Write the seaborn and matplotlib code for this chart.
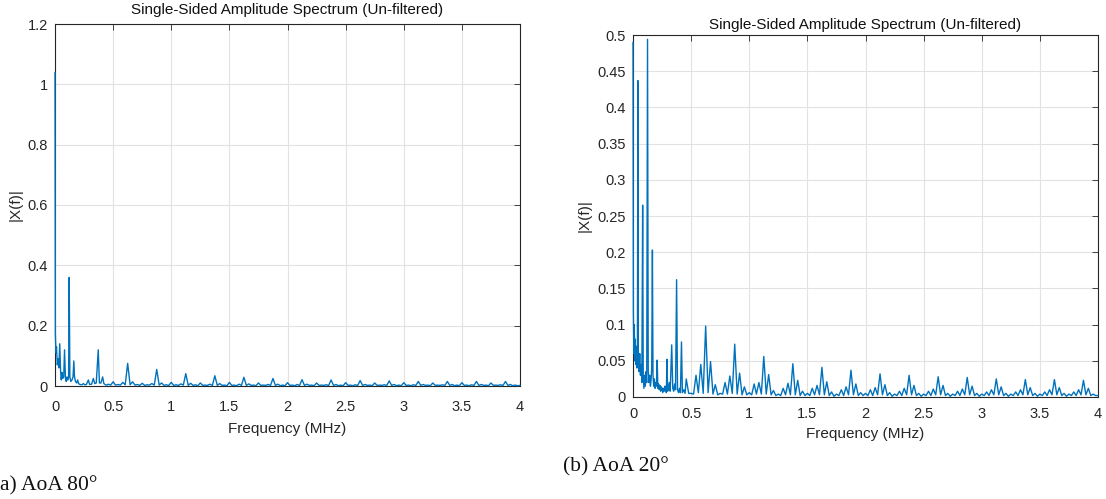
import matplotlib
matplotlib.use("Agg")
import matplotlib.pyplot as plt
import pandas as pd
import seaborn as sns

# ---------------- data (MHz, |X(f)|) ----------------
# low-frequency detail, panel (a) AoA 80
low_freq_a = [0.000, 0.003, 0.008, 0.013, 0.020, 0.027, 0.033, 0.041, 0.048, 0.054,
              0.060, 0.066, 0.075, 0.082, 0.090, 0.097, 0.104, 0.111, 0.117, 0.122,
              0.128, 0.136, 0.146, 0.155, 0.162, 0.168, 0.176, 0.186, 0.195, 0.203,
              0.215, 0.230, 0.245, 0.255, 0.270, 0.287, 0.298, 0.315, 0.330, 0.342,
              0.355, 0.372, 0.382, 0.395, 0.410, 0.420, 0.435, 0.448]
low_amp_a = [1.040, 0.175, 0.110, 0.130, 0.070, 0.090, 0.060, 0.140, 0.050, 0.020,
             0.045, 0.025, 0.030, 0.120, 0.025, 0.015, 0.030, 0.020, 0.030, 0.360,
             0.030, 0.015, 0.020, 0.030, 0.083, 0.030, 0.015, 0.010, 0.020, 0.008,
             0.005, 0.004, 0.008, 0.004, 0.005, 0.020, 0.005, 0.006, 0.025, 0.008,
             0.010, 0.120, 0.010, 0.010, 0.030, 0.008, 0.004, 0.003]

# low-frequency detail, panel (b) AoA 20
low_freq_b = [0.000, 0.003, 0.007, 0.011, 0.015, 0.019, 0.024, 0.029, 0.034, 0.038,
              0.042, 0.046, 0.052, 0.058, 0.064, 0.070, 0.076, 0.083, 0.088, 0.094,
              0.100, 0.106, 0.112, 0.118, 0.125, 0.131, 0.137, 0.143, 0.150, 0.156,
              0.161, 0.167, 0.172, 0.178, 0.184, 0.190, 0.196, 0.202, 0.208, 0.214,
              0.220, 0.226, 0.232, 0.238, 0.244, 0.250, 0.256, 0.262, 0.268, 0.275,
              0.281, 0.287, 0.292, 0.298, 0.305, 0.312, 0.320, 0.333, 0.342, 0.350,
              0.358, 0.366, 0.375, 0.383, 0.392, 0.400, 0.408, 0.417, 0.425, 0.437,
              0.448]
low_amp_b = [0.490, 0.120, 0.060, 0.100, 0.050, 0.080, 0.045, 0.070, 0.040, 0.060,
             0.437, 0.050, 0.035, 0.060, 0.030, 0.045, 0.020, 0.265, 0.030, 0.012,
             0.030, 0.015, 0.035, 0.020, 0.494, 0.035, 0.020, 0.030, 0.015, 0.025,
             0.040, 0.203, 0.030, 0.015, 0.025, 0.012, 0.020, 0.015, 0.051, 0.012,
             0.018, 0.010, 0.016, 0.008, 0.014, 0.012, 0.006, 0.012, 0.008, 0.015,
             0.010, 0.006, 0.052, 0.008, 0.012, 0.020, 0.008, 0.072, 0.012, 0.008,
             0.018, 0.010, 0.162, 0.010, 0.006, 0.012, 0.006, 0.076, 0.006, 0.010,
             0.005]

# harmonic lines above 0.45 MHz (shared frequency grid)
harm_freq = [0.458,
             0.500, 0.542, 0.583, 0.625, 0.667, 0.708,
             0.750, 0.792, 0.833, 0.875, 0.917, 0.958,
             1.000, 1.042, 1.083, 1.125, 1.167, 1.208,
             1.250, 1.292, 1.333, 1.375, 1.417, 1.458,
             1.500, 1.542, 1.583, 1.625, 1.667, 1.708,
             1.750, 1.792, 1.833, 1.875, 1.917, 1.958,
             2.000, 2.042, 2.083, 2.125, 2.167, 2.208,
             2.250, 2.292, 2.333, 2.375, 2.417, 2.458,
             2.500, 2.542, 2.583, 2.625, 2.667, 2.708,
             2.750, 2.792, 2.833, 2.875, 2.917, 2.958,
             3.000, 3.042, 3.083, 3.125, 3.167, 3.208,
             3.250, 3.292, 3.333, 3.375, 3.417, 3.458,
             3.500, 3.542, 3.583, 3.625, 3.667, 3.708,
             3.750, 3.792, 3.833, 3.875, 3.917, 3.958]
harm_amp_a = [0.006,
              0.014, 0.005, 0.012, 0.075, 0.014, 0.005,
              0.009, 0.004, 0.008, 0.055, 0.010, 0.004,
              0.012, 0.004, 0.007, 0.041, 0.009, 0.004,
              0.010, 0.003, 0.006, 0.034, 0.008, 0.003,
              0.012, 0.003, 0.006, 0.029, 0.007, 0.003,
              0.010, 0.003, 0.005, 0.025, 0.006, 0.003,
              0.011, 0.003, 0.005, 0.021, 0.006, 0.003,
              0.010, 0.003, 0.004, 0.020, 0.005, 0.003,
              0.011, 0.003, 0.004, 0.018, 0.005, 0.003,
              0.010, 0.003, 0.004, 0.017, 0.005, 0.003,
              0.011, 0.003, 0.004, 0.015, 0.005, 0.003,
              0.010, 0.003, 0.004, 0.015, 0.005, 0.003,
              0.011, 0.003, 0.004, 0.015, 0.005, 0.003,
              0.010, 0.003, 0.004, 0.015, 0.005, 0.003]
harm_amp_b = [0.025,
              0.005, 0.030, 0.045, 0.098, 0.049, 0.017,
              0.005, 0.020, 0.029, 0.073, 0.033, 0.014,
              0.006, 0.018, 0.020, 0.056, 0.031, 0.009,
              0.004, 0.012, 0.019, 0.046, 0.023, 0.008,
              0.005, 0.012, 0.016, 0.041, 0.021, 0.007,
              0.004, 0.010, 0.014, 0.037, 0.018, 0.006,
              0.005, 0.010, 0.013, 0.032, 0.017, 0.006,
              0.004, 0.008, 0.012, 0.030, 0.016, 0.005,
              0.004, 0.008, 0.011, 0.028, 0.016, 0.005,
              0.004, 0.008, 0.011, 0.027, 0.015, 0.005,
              0.004, 0.007, 0.010, 0.025, 0.014, 0.005,
              0.004, 0.007, 0.010, 0.024, 0.013, 0.005,
              0.004, 0.007, 0.010, 0.024, 0.013, 0.005,
              0.004, 0.007, 0.010, 0.023, 0.012, 0.004]

# valleys between the harmonic lines
valley_freq = [0.479,
               0.521, 0.562, 0.604, 0.646, 0.688, 0.729,
               0.771, 0.812, 0.854, 0.896, 0.938, 0.979,
               1.021, 1.062, 1.104, 1.146, 1.188, 1.229,
               1.271, 1.312, 1.354, 1.396, 1.438, 1.479,
               1.521, 1.562, 1.604, 1.646, 1.688, 1.729,
               1.771, 1.812, 1.854, 1.896, 1.938, 1.979,
               2.021, 2.062, 2.104, 2.146, 2.188, 2.229,
               2.271, 2.312, 2.354, 2.396, 2.438, 2.479,
               2.521, 2.562, 2.604, 2.646, 2.688, 2.729,
               2.771, 2.812, 2.854, 2.896, 2.938, 2.979,
               3.021, 3.062, 3.104, 3.146, 3.188, 3.229,
               3.271, 3.312, 3.354, 3.396, 3.438, 3.479,
               3.521, 3.562, 3.604, 3.646, 3.688, 3.729,
               3.771, 3.812, 3.854, 3.896, 3.938, 3.979,
               4.000]
valley_amp_a = [0.003,
                0.003, 0.003, 0.004, 0.004, 0.003, 0.002,
                0.002, 0.003, 0.003, 0.003, 0.002, 0.002,
                0.002, 0.002, 0.003, 0.002, 0.002, 0.001,
                0.002, 0.002, 0.002, 0.002, 0.002, 0.001,
                0.002, 0.001, 0.002, 0.002, 0.002, 0.001,
                0.002, 0.002, 0.002, 0.002, 0.001, 0.001,
                0.002, 0.001, 0.002, 0.002, 0.002, 0.001,
                0.002, 0.002, 0.002, 0.002, 0.001, 0.001,
                0.002, 0.001, 0.002, 0.002, 0.002, 0.001,
                0.002, 0.002, 0.002, 0.002, 0.001, 0.001,
                0.002, 0.001, 0.002, 0.002, 0.002, 0.001,
                0.002, 0.002, 0.002, 0.002, 0.001, 0.001,
                0.002, 0.001, 0.002, 0.002, 0.002, 0.001,
                0.002, 0.002, 0.002, 0.002, 0.001, 0.001,
                0.002]
valley_amp_b = [0.005,
                0.004, 0.006, 0.005, 0.006, 0.004, 0.003,
                0.004, 0.004, 0.005, 0.004, 0.003, 0.003,
                0.003, 0.004, 0.004, 0.004, 0.003, 0.002,
                0.002, 0.003, 0.003, 0.003, 0.002, 0.002,
                0.002, 0.003, 0.003, 0.003, 0.002, 0.001,
                0.002, 0.002, 0.003, 0.003, 0.002, 0.002,
                0.002, 0.002, 0.003, 0.003, 0.002, 0.001,
                0.002, 0.002, 0.003, 0.003, 0.002, 0.001,
                0.002, 0.002, 0.003, 0.003, 0.002, 0.001,
                0.002, 0.002, 0.003, 0.003, 0.002, 0.001,
                0.002, 0.002, 0.003, 0.003, 0.002, 0.001,
                0.002, 0.002, 0.003, 0.003, 0.002, 0.001,
                0.002, 0.002, 0.003, 0.003, 0.002, 0.001,
                0.002, 0.002, 0.003, 0.003, 0.002, 0.002,
                0.002]

x_ticks = [0, 0.5, 1, 1.5, 2, 2.5, 3, 3.5, 4]
x_tick_labels = ["0", "0.5", "1", "1.5", "2", "2.5", "3", "3.5", "4"]
y_ticks_a = [0, 0.2, 0.4, 0.6, 0.8, 1.0, 1.2]
y_tick_labels_a = ["0", "0.2", "0.4", "0.6", "0.8", "1", "1.2"]
y_ticks_b = [0, 0.05, 0.1, 0.15, 0.2, 0.25, 0.3, 0.35, 0.4, 0.45, 0.5]
y_tick_labels_b = ["0", "0.05", "0.1", "0.15", "0.2", "0.25", "0.3", "0.35",
                   "0.4", "0.45", "0.5"]

title = "Single-Sided Amplitude Spectrum (Un-filtered)"
x_label = "Frequency (MHz)"
y_label = "|X(f)|"
caption_a = "a) AoA 80°"   # left edge of this caption is cropped in the original
caption_b = "(b) AoA 20°"


def build(low_f, low_a, harm_a, valley_a):
    df = pd.concat([
        pd.DataFrame({"f": low_f, "a": low_a}),
        pd.DataFrame({"f": harm_freq, "a": harm_a}),
        pd.DataFrame({"f": valley_freq, "a": valley_a}),
    ])
    return df.sort_values("f").reset_index(drop=True)


df_a = build(low_freq_a, low_amp_a, harm_amp_a, valley_amp_a)
df_b = build(low_freq_b, low_amp_b, harm_amp_b, valley_amp_b)

sns.set_theme(style="white")
plt.rcParams["font.family"] = ["Liberation Sans", "DejaVu Sans"]
plt.rcParams["path.simplify"] = False

W, H = 1106, 499
fig = plt.figure(figsize=(W / 100, H / 100), dpi=100)
fig.patch.set_facecolor("white")
ax_a = fig.add_axes([55 / W, 1 - 386 / H, 465 / W, 362 / H])
ax_b = fig.add_axes([633 / W, 1 - 397 / H, 465 / W, 362 / H])

line_color = "#0072BD"
dark = "#262626"

panels = [(ax_a, df_a, y_ticks_a, y_tick_labels_a, 1.2, 10.0, 6.0, 7),
          (ax_b, df_b, y_ticks_b, y_tick_labels_b, 0.5, 7.5, 4.0, 4)]
for ax, df, yt, ytl, ymax, xpad, xlpad, tpad in panels:
    sns.lineplot(data=df, x="f", y="a", ax=ax, color=line_color,
                 linewidth=1.0, estimator=None, sort=True, zorder=3,
                 clip_on=False)
    ax.set_xlim(0, 4)
    ax.set_ylim(0, ymax)
    ax.set_xticks(x_ticks)
    ax.set_xticklabels(x_tick_labels)
    ax.set_yticks(yt)
    ax.set_yticklabels(ytl)
    ax.grid(True, color="#e2e2e2", linewidth=0.8)
    ax.set_axisbelow(True)
    for sp in ax.spines.values():
        sp.set_color(dark)
        sp.set_linewidth(0.8)
        sp.set_visible(True)
    ax.tick_params(direction="in", top=True, right=True, length=4, width=0.6,
                   colors=dark, labelsize=10.5)
    ax.tick_params(axis="x", pad=xpad)
    ax.tick_params(axis="y", pad=5)
    ax.set_title(title, fontsize=11, pad=tpad, color="#111111")
    ax.set_xlabel(x_label, fontsize=11, color=dark, labelpad=xlpad)
    ax.set_ylabel(y_label, fontsize=11, color=dark, labelpad=4)

fig.text(0.0, 1 - 490 / H, caption_a, family=["Liberation Serif", "DejaVu Serif"],
         fontsize=15.5, ha="left", va="baseline", color="#111111")
fig.text(563 / W, 1 - 471 / H, caption_b, family=["Liberation Serif", "DejaVu Serif"],
         fontsize=15.5, ha="left", va="baseline", color="#111111")

fig.savefig("out.png", dpi=100, facecolor="white")
